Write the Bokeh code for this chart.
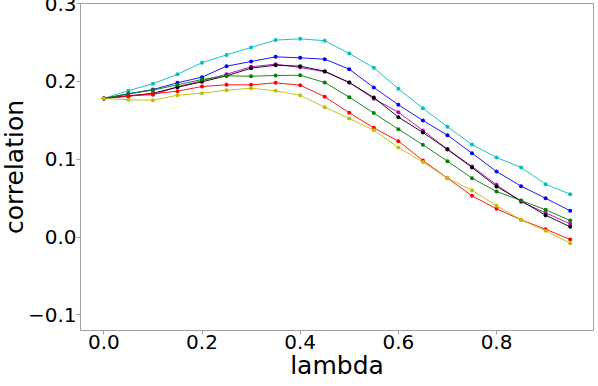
from bokeh.plotting import figure
from bokeh.models import FixedTicker, CustomJSTickFormatter, Range1d, ColumnDataSource
from bokeh.embed import file_html
from bokeh.resources import INLINE

lam = [round(0.05 * i, 2) for i in range(20)]

cyan = [0.178, 0.188, 0.197, 0.209, 0.224, 0.234, 0.2435, 0.253, 0.2546, 0.2522,
        0.2358, 0.2174, 0.1904, 0.1655, 0.1416, 0.1189, 0.1022, 0.0894, 0.0679, 0.0551]
blue = [0.178, 0.184, 0.1895, 0.1981, 0.2054, 0.2195, 0.2255, 0.2315, 0.2302, 0.2285,
        0.2156, 0.1921, 0.1699, 0.1497, 0.1309, 0.1077, 0.0842, 0.0654, 0.0499, 0.0337]
magenta = [0.178, 0.182, 0.1827, 0.193, 0.2007, 0.2092, 0.2187, 0.2221, 0.2178, 0.2123,
           0.1985, 0.1776, 0.1604, 0.1369, 0.113, 0.0907, 0.0671, 0.0453, 0.0311, 0.017]
black = [0.178, 0.181, 0.1848, 0.1925, 0.1994, 0.2071, 0.2169, 0.2208, 0.2195, 0.2131,
         0.1985, 0.1793, 0.154, 0.1343, 0.1125, 0.0894, 0.065, 0.0466, 0.0281, 0.0132]
green = [0.178, 0.184, 0.1887, 0.1955, 0.2024, 0.2071, 0.2066, 0.2075, 0.2079, 0.1985,
         0.1797, 0.1592, 0.1386, 0.1185, 0.0975, 0.0757, 0.0585, 0.047, 0.035, 0.0213]
red = [0.178, 0.181, 0.184, 0.1874, 0.1934, 0.1955, 0.1955, 0.1981, 0.1951, 0.1802,
       0.1596, 0.1403, 0.1232, 0.0984, 0.0757, 0.053, 0.0363, 0.0222, 0.0101, -0.0031]
yellow = [0.178, 0.1763, 0.1758, 0.1822, 0.1848, 0.1887, 0.1912, 0.1878, 0.1822, 0.1668,
          0.1523, 0.1373, 0.115, 0.0963, 0.0757, 0.0602, 0.0401, 0.0222, 0.008, -0.0078]

series = [
    (cyan, "#00bfbf"),
    (blue, "#0000ff"),
    (magenta, "#bf00bf"),
    (black, "#000000"),
    (green, "#008000"),
    (red, "#ff0000"),
    (yellow, "#bfbf00"),
]

y_ticks = [-0.1, 0.0, 0.1, 0.2, 0.3]
x_ticks = [0.0, 0.2, 0.4, 0.6, 0.8]

p = figure(width=598, height=386, output_backend="svg", toolbar_location=None,
           x_range=Range1d(-0.0475, 0.9975), y_range=Range1d(-0.12, 0.3),
           min_border_left=79, min_border_right=1, min_border_top=7, min_border_bottom=52)
p.styles = {"margin-left": "-4px", "margin-top": "-4px"}

for vals, col in series:
    src = ColumnDataSource(dict(x=lam, y=vals))
    p.line("x", "y", source=src, line_color=col, line_width=1, line_alpha=0.9)
    p.scatter("x", "y", source=src, size=4, fill_color=col, line_color=None)

p.grid.visible = False
p.outline_line_color = "#a0a0a0"
p.outline_line_width = 1
p.background_fill_color = "white"
p.border_fill_color = "white"

fmt = CustomJSTickFormatter(code="return tick.toFixed(1).replace('-', '\u2212');")
for ax in (p.xaxis[0], p.yaxis[0]):
    ax.axis_line_color = "#a0a0a0"
    ax.major_tick_line_color = "#a0a0a0"
    ax.minor_tick_line_color = None
    ax.major_tick_out = 4
    ax.major_tick_in = 0
    ax.major_label_text_font = "DejaVu Sans"
    ax.major_label_text_font_size = "20px"
    ax.major_label_text_color = "black"
    ax.axis_label_text_font = "DejaVu Sans"
    ax.axis_label_text_font_size = "25px"
    ax.axis_label_text_font_style = "normal"
    ax.axis_label_text_color = "black"
    ax.formatter = fmt

p.xaxis[0].ticker = FixedTicker(ticks=x_ticks)
p.yaxis[0].ticker = FixedTicker(ticks=y_ticks)
p.xaxis[0].axis_label = "lambda"
p.yaxis[0].axis_label = "correlation"
p.xaxis[0].major_label_standoff = 0
p.yaxis[0].major_label_standoff = 0
p.xaxis[0].axis_label_standoff = -1
p.yaxis[0].axis_label_standoff = -4

open("out.html", "w").write(file_html(p, INLINE))
